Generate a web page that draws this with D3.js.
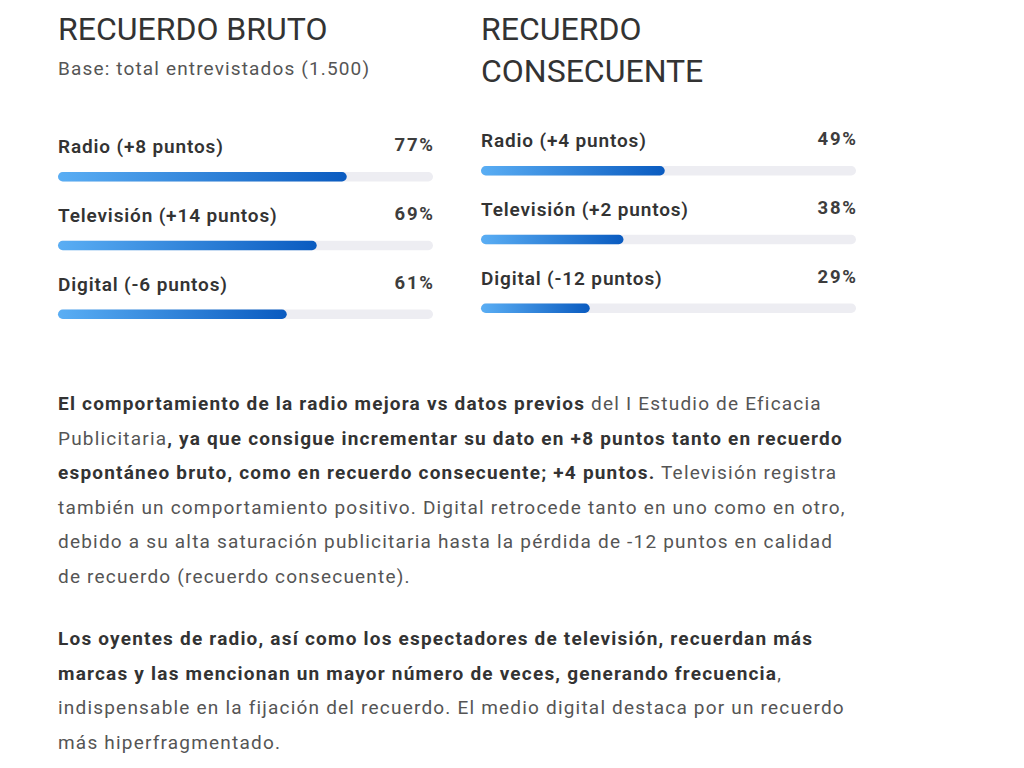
<!DOCTYPE html>
<html><head><meta charset="utf-8">
<script src="https://cdn.jsdelivr.net/npm/d3@7"></script>
<style>
html,body{margin:0;padding:0;background:#fff;}
svg{display:block;font-family:Roboto,"Noto Sans",sans-serif;}
</style></head>
<body><svg id="c" width="1024" height="768"></svg>
<script>
const categories = ["Radio", "Televisión", "Digital"];
const brutoValues = [77, 69, 61];
const brutoDeltas = [8, 14, -6];
const consecValues = [49, 38, 29];
const consecDeltas = [4, 2, -12];

const paragraphs = [
  [
    [["El comportamiento de la radio mejora vs datos previos", true], [" del I Estudio de Eficacia", false]],
    [["Publicitaria", false], [", ya que consigue incrementar su dato en +8 puntos tanto en recuerdo", true]],
    [["espontáneo bruto, como en recuerdo consecuente; +4 puntos.", true], [" Televisión registra", false]],
    [["también un comportamiento positivo. Digital retrocede tanto en uno como en otro,", false]],
    [["debido a su alta saturación publicitaria hasta la pérdida de -12 puntos en calidad", false]],
    [["de recuerdo (recuerdo consecuente).", false]]
  ],
  [
    [["Los oyentes de radio, así como los espectadores de televisión, recuerdan más", true]],
    [["marcas y las mencionan un mayor número de veces, generando frecuencia", true], [",", false]],
    [["indispensable en la fijación del recuerdo. El medio digital destaca por un recuerdo", false]],
    [["más hiperfragmentado.", false]]
  ]
];

const svg = d3.select("#c");
const defs = svg.append("defs");
const grad = defs.append("linearGradient").attr("id", "barGrad")
  .attr("x1", "0%").attr("x2", "100%").attr("y1", "0%").attr("y2", "0%");
grad.append("stop").attr("offset", "0%").attr("stop-color", "#5aaef4");
grad.append("stop").attr("offset", "100%").attr("stop-color", "#0a5bc0");

const trackW = 375;
const x = d3.scaleLinear().domain([0, 100]).range([0, trackW]);

function panel(gx, titleLines, subtitle, values, deltas, firstLabelY) {
  const g = svg.append("g").attr("transform", `translate(${gx},0)`);
  titleLines.forEach((t, i) => {
    g.append("text").attr("x", 0).attr("y", 40 + i * 42)
      .attr("font-size", 32).attr("fill", "#333").attr("font-weight", 400)
      .text(t);
  });
  if (subtitle) {
    g.append("text").attr("x", 0).attr("y", 75).attr("font-size", 19)
      .attr("letter-spacing", 1.15).attr("fill", "#555").text(subtitle);
  }
  const y = d3.scalePoint().domain(categories).range([firstLabelY, firstLabelY + 137.5]);
  const rows = g.selectAll("g.row").data(categories.map((c, i) => ({c, v: values[i], d: deltas[i]})))
    .join("g").attr("class", "row").attr("transform", d => `translate(0,${y(d.c)})`);
  rows.append("text").attr("x", 0).attr("y", 0).attr("font-size", 19).attr("font-weight", 600)
    .attr("letter-spacing", 0.85).attr("fill", "#333")
    .text(d => `${d.c} (${d.d > 0 ? "+" : ""}${d.d} puntos)`);
  rows.append("text").attr("x", trackW + 1.8).attr("y", -2).attr("text-anchor", "end")
    .attr("font-size", 18.5).attr("font-weight", 700).attr("letter-spacing", 1.8).attr("fill", "#3d3d3d")
    .text(d => d.v + "%");
  rows.append("rect").attr("x", 0).attr("y", 19).attr("width", x(100)).attr("height", 9.5)
    .attr("rx", 4.75).attr("fill", "#ededf2");
  rows.append("rect").attr("x", 0).attr("y", 19).attr("width", d => x(d.v)).attr("height", 9.5)
    .attr("rx", 4.75).attr("fill", "url(#barGrad)");
}

panel(58, ["RECUERDO BRUTO"], "Base: total entrevistados (1.500)", brutoValues, brutoDeltas, 153);
panel(481, ["RECUERDO", "CONSECUENTE"], null, consecValues, consecDeltas, 147);

const paraStarts = [410, 645];
const lineH = 34.5;
paragraphs.forEach((p, pi) => {
  p.forEach((line, li) => {
    const t = svg.append("text").attr("x", 58).attr("y", paraStarts[pi] + li * lineH)
      .attr("font-size", 19).attr("letter-spacing", 1.2);
    line.forEach(([s, b]) => {
      t.append("tspan").attr("font-weight", b ? 700 : 400)
        .attr("fill", b ? "#333" : "#555").text(s);
    });
  });
});
</script></body></html>
